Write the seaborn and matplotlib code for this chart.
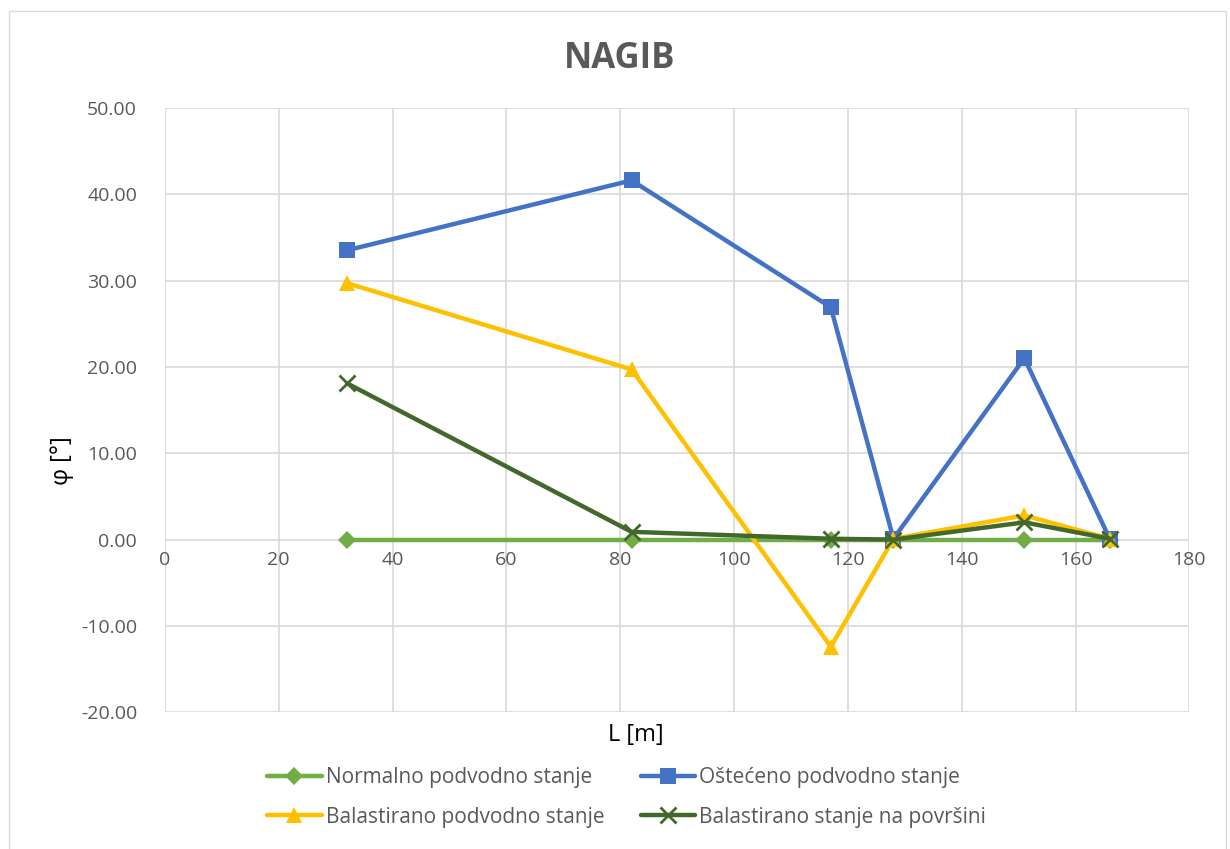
import pandas as pd
import seaborn as sns
import matplotlib.pyplot as plt
from matplotlib.ticker import FormatStrFormatter

# podaci
L = [32, 82, 117, 128, 151, 166]
normalno = [0, 0, 0, 0, 0, 0]
osteceno = [33.5, 41.6, 26.9, 0.1, 21.0, 0.1]
balast_pod = [29.7, 19.7, -12.4, 0.1, 2.8, 0.1]
balast_pov = [18.1, 0.9, 0.1, 0.0, 2.0, 0.1]

serije = ['Normalno podvodno stanje', 'Oštećeno podvodno stanje',
          'Balastirano podvodno stanje', 'Balastirano stanje na površini']
boje = ['#70AD47', '#4472C4', '#FFC000', '#43682B']
markeri = ['D', 's', '^', 'x']
velicine = [9, 12, 12, 11]

df = pd.concat([
    pd.DataFrame({'L': L, 'phi': v, 'serija': s})
    for s, v in zip(serije, [normalno, osteceno, balast_pod, balast_pov])
])

sns.set_style('white')
plt.rcParams['font.family'] = ['Open Sans', 'DejaVu Sans']
siva = '#595959'

fig = plt.figure(figsize=(12.3, 8.49), dpi=100)
ax = fig.add_axes([0.134, 0.161, 0.833, 0.712])

for s, c, m, ms in zip(serije, boje, markeri, velicine):
    sns.lineplot(data=df[df['serija'] == s], x='L', y='phi', ax=ax, color=c,
                 marker=m, markersize=ms, linewidth=3.2, sort=False,
                 markeredgecolor=c, markeredgewidth=2 if m == 'x' else 0,
                 label=s, legend=False)

ax.set_xlim(0, 180)
ax.set_ylim(-20, 50)
ax.set_xticks(range(0, 181, 20))
ax.set_yticks(range(-20, 51, 10))
ax.yaxis.set_major_formatter(FormatStrFormatter('%.2f'))
ax.grid(True, color='#d9d9d9', linewidth=1.2)
ax.set_axisbelow(True)
for k in ['left', 'right', 'top', 'bottom']:
    ax.spines[k].set_visible(False)
# x oznake ispod osi na nuli
ax.spines['bottom'].set_position(('data', 0))
ax.tick_params(axis='both', length=0, labelsize=14, colors=siva, pad=8)
ax.tick_params(axis='y', pad=20)

ax.set_xlabel('')
ax.set_ylabel('')
fig.text(0.517, 0.134, 'L [m]', ha='center', va='center', fontsize=17, color='black')
fig.text(0.05, 0.458, 'φ [°]', ha='center', va='center', rotation=90, fontsize=17, color='black')
fig.text(0.504, 0.93, 'NAGIB', ha='center', va='center', fontsize=25,
         fontweight='bold', color=siva)

handles, labels = ax.get_legend_handles_labels()
red = [0, 2, 1, 3]
fig.legend([handles[i] for i in red], [labels[i] for i in red], ncol=2,
           loc='center', bbox_to_anchor=(0.5095, 0.061), frameon=False,
           fontsize=15, labelcolor=siva, handlelength=2.6, columnspacing=1.75,
           handletextpad=0.2, labelspacing=0.9)

# okvir grafikona
fig.patches.append(plt.Rectangle((0.007, -0.05), 0.99, 1.037, transform=fig.transFigure,
                                 fill=False, edgecolor='#d9d9d9', linewidth=1))

fig.savefig('out.png', dpi=100)
